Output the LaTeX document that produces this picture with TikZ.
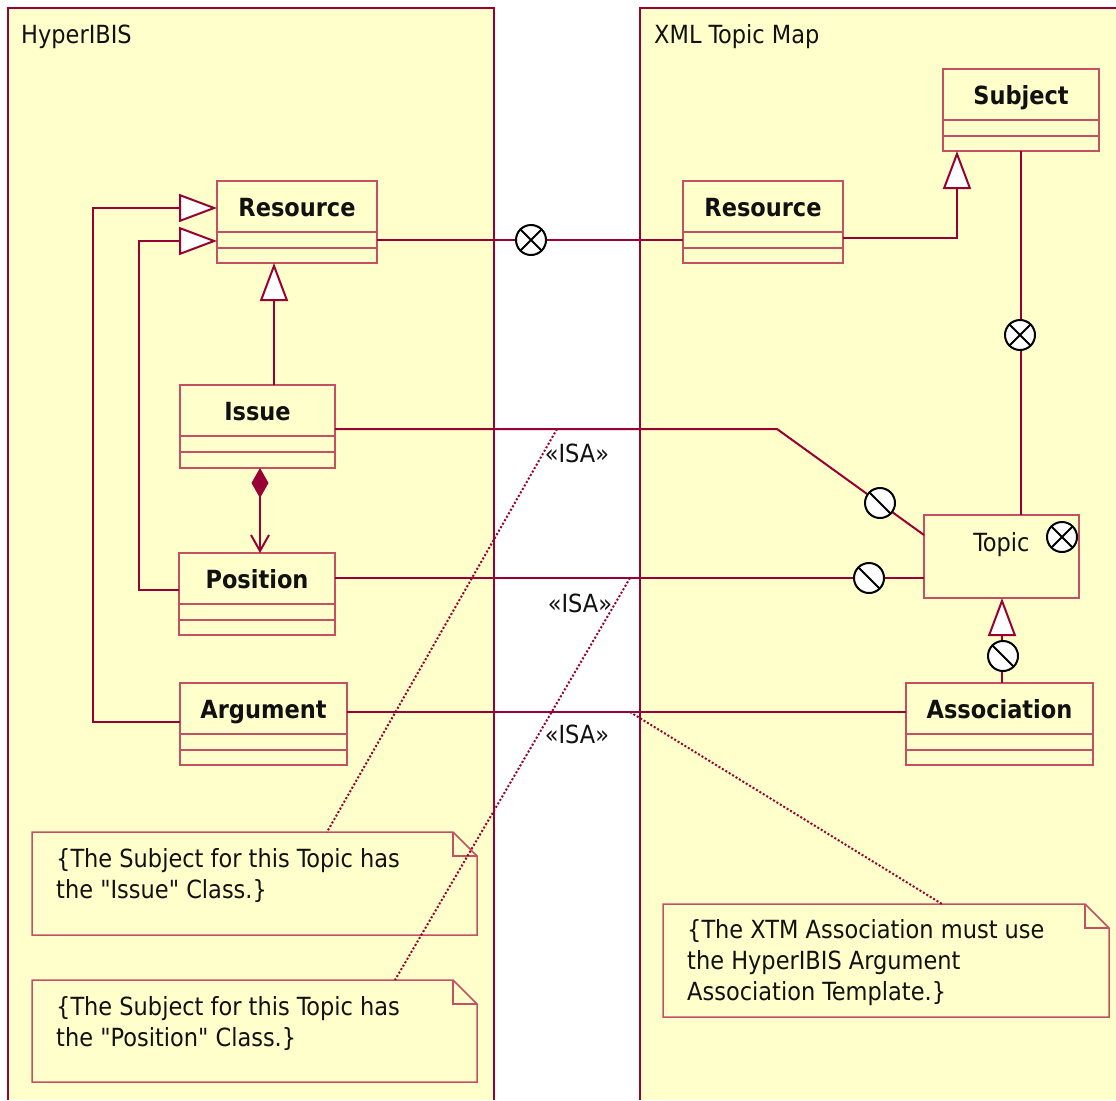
\documentclass[tikz,border=0pt]{standalone}
\usepackage{fontspec}
\setmainfont{DejaVu Sans Condensed}[Ligatures=TeXOff]
\usetikzlibrary{arrows.meta}

\definecolor{panelfill}{RGB}{255,255,204}
\definecolor{crimson}{RGB}{153,0,51}
\definecolor{boxline}{RGB}{196,80,100}
\definecolor{ink}{RGB}{17,17,17}

\tikzset{
  pborder/.style={draw=crimson, line width=1.5pt},
  classbox/.style={rectangle, draw=boxline, fill=panelfill, line width=1.5pt,
    minimum height=82pt, inner sep=0pt, outer sep=0pt},
  cname/.style={font=\fontsize{25}{31}\selectfont\bfseries, text=ink, inner sep=0pt, anchor=base},
  plain/.style={font=\fontsize{25}{31}\selectfont, text=ink, inner sep=0pt},
  sepline/.style={draw=boxline, line width=1.5pt},
  notebox/.style={rectangle, draw=none, inner sep=0pt, outer sep=0pt, anchor=north west},
  noteline/.style={draw=boxline, line width=1.5pt},
  conn/.style={draw=crimson, line width=2pt},
  genTip/.tip={Triangle[length=38pt, width=28pt, fill=white, line width=2pt]},
  dotline/.style={draw=crimson, line width=2pt, dash pattern=on 2pt off 2pt},
  xcirc/.style={circle, draw=black, fill=white, line width=2pt, minimum size=30pt,
    inner sep=0pt, path picture={
      \draw[black, line width=2pt]
        (path picture bounding box.north west) -- (path picture bounding box.south east)
        (path picture bounding box.north east) -- (path picture bounding box.south west);}},
  scirc/.style={circle, draw=black, fill=white, line width=2pt, minimum size=30pt,
    inner sep=0pt, path picture={
      \draw[black, line width=2pt]
        (path picture bounding box.north west) -- (path picture bounding box.south east);}}
}

% compartment separators of a class box
\newcommand{\classseps}[1]{%
  \draw[sepline] ([yshift=-51pt]#1.north west) -- ([yshift=-51pt]#1.north east);
  \draw[sepline] ([yshift=-67pt]#1.north west) -- ([yshift=-67pt]#1.north east);}

% note outline with folded corner
\newcommand{\noteoutline}[1]{%
  \draw[noteline, fill=panelfill] (#1.north west) -- ([xshift=-24pt]#1.north east)
    -- ([yshift=-24pt]#1.north east) -- (#1.south east) -- (#1.south west) -- cycle;
  \draw[noteline] ([xshift=-24pt]#1.north east) |- ([yshift=-24pt]#1.north east);}

\begin{document}
\begin{tikzpicture}[x=1pt, y=-1pt]
\useasboundingbox (0,0) rectangle (1116,1100);
\fill[white] (0,0) rectangle (1116,1100);

% packages
\fill[panelfill] (8,8) rectangle (494,1100);
\draw[pborder] (8,1100) -- (8,8) -- (494,8) -- (494,1100);
\fill[panelfill] (640,8) rectangle (1116,1100);
\draw[pborder] (640,1100) -- (640,8) -- (1116,8);
\node[plain, anchor=base west] (pkgA) at (21,43) {HyperIBIS};
\node[plain, anchor=base west] (pkgB) at (654,43) {XML Topic Map};

% notes
\node[notebox, minimum width=445pt, minimum height=103pt] (n1) at (32,832) {};
\noteoutline{n1}
\node[plain, anchor=north west, align=left] (n1t) at (56,848)
  {\{The Subject for this Topic has\\the "Issue" Class.\}};
\node[notebox, minimum width=445pt, minimum height=102pt] (n2) at (32,980) {};
\noteoutline{n2}
\node[plain, anchor=north west, align=left] (n2t) at (56,996)
  {\{The Subject for this Topic has\\the "Position" Class.\}};
\node[notebox, minimum width=446pt, minimum height=113pt] (n3) at (663,904) {};
\noteoutline{n3}
\node[plain, anchor=north west, align=left] (n3t) at (687,919)
  {\{The XTM Association must use\\the HyperIBIS Argument\\Association Template.\}};

% classes
\node[classbox, minimum width=160pt] (resL) at (297,222) {};
\node[classbox, minimum width=155pt, minimum height=83pt] (issue) at (257.5,426.5) {};
\node[classbox, minimum width=156pt] (pos) at (257,594) {};
\node[classbox, minimum width=167pt] (arg) at (263.5,724) {};
\node[classbox, minimum width=160pt] (resR) at (763,222) {};
\node[classbox, minimum width=156pt] (subj) at (1021,110) {};
\node[classbox, minimum width=155pt, minimum height=83pt] (topic) at (1001.5,556.5) {};
\node[classbox, minimum width=187pt] (assoc) at (999.5,724) {};
\foreach \c in {resL,issue,pos,arg,resR,subj,assoc} {\classseps{\c}}
\node[cname] (resLn) at ([yshift=-35pt]resL.north) {Resource};
\node[cname] (issuen) at ([yshift=-35pt]issue.north) {Issue};
\node[cname] (posn) at ([yshift=-35pt]pos.north) {Position};
\node[cname] (argn) at ([yshift=-35pt]arg.north) {Argument};
\node[cname] (resRn) at ([yshift=-35pt]resR.north) {Resource};
\node[cname] (subjn) at ([yshift=-35pt]subj.north) {Subject};
\node[cname] (assocn) at ([yshift=-35pt]assoc.north) {Association};
\node[plain, anchor=base] (topicn) at ([yshift=-36pt]topic.north) {Topic};

% bend and routing points
\coordinate (h240) at (531,240);
\coordinate (k1) at (957,238);
\coordinate (k2) at (274,0);
\coordinate (k3) at (139,590);
\coordinate (k4) at (139,241);
\coordinate (k5) at (93,722);
\coordinate (k6) at (93,208);
\coordinate (k7) at (260,0);
\coordinate (k8) at (777,429);
\coordinate (k9) at (0,535);
\coordinate (k10) at (0,578);
\coordinate (k11) at (1002,0);
\coordinate (k12) at (0,712);

% connectors
\draw[conn] (resL.east |- h240) -- (resR.west |- h240);
\draw[conn, -genTip] (resR.east |- k1) -- (k1) -- (k1 |- subj.south);
\draw[conn] (subj.south) -- (subj.south |- topic.north);
\draw[conn, -genTip] (k2 |- issue.north) -- (k2 |- resL.south);
\draw[conn, -genTip] (pos.west |- k3) -- (k3) -- (k4) -- (resL.west |- k4);
\draw[conn, -genTip] (arg.west |- k5) -- (k5) -- (k6) -- (resL.west |- k6);
\draw[conn, {Diamond[length=30pt,width=17pt]}-{Straight Barb[length=16pt,width=18pt]}]
  (k7 |- issue.south) -- (k7 |- pos.north);
\draw[conn] (issue.east |- k8) -- (k8) -- (topic.west |- k9);
\draw[conn] (pos.east |- k10) -- (topic.west |- k10);
\draw[conn, -genTip] (k11 |- assoc.north) -- (k11 |- topic.south);
\draw[conn] (arg.east |- k12) -- (assoc.west |- k12);

% association end markers
\node[xcirc] (c1) at (531,240) {};
\node[xcirc] (c2) at (1020,335) {};
\node[xcirc] (c3) at (1062,537) {};
\node[scirc] (c4) at (880,503) {};
\node[scirc] (c5) at (869,578) {};
\node[scirc] (c6) at (1003,656) {};

% stereotypes
\node[plain, anchor=base] (isa1) at (577,462) {«ISA»};
\node[plain, anchor=base] (isa2) at (580,612) {«ISA»};
\node[plain, anchor=base] (isa3) at (577,743) {«ISA»};

% note anchors
\coordinate (d1) at (557,429);
\coordinate (d2) at (630,578);
\coordinate (d3) at (630,712);
\coordinate (e1) at (327,0);
\coordinate (e2) at (395,0);
\coordinate (e3) at (942,0);
\draw[dotline] (d1) -- (e1 |- n1.north);
\draw[dotline] (d2) -- (e2 |- n2.north);
\draw[dotline] (d3) -- (e3 |- n3.north);
\end{tikzpicture}
\end{document}
